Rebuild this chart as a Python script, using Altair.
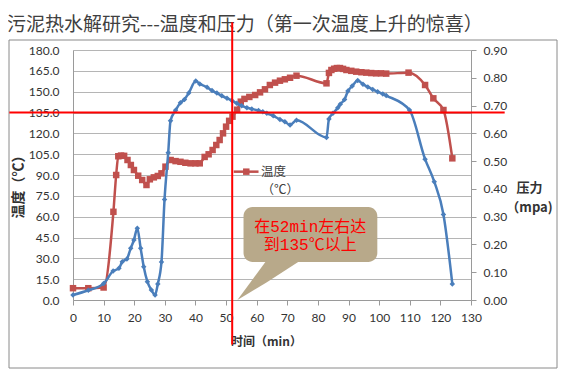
import altair as alt
import pandas as pd

# ---------------- data ----------------
title_text = "污泥热水解研究---温度和压力（第一次温度上升的惊喜）"

temp_t = [0, 5, 10, 13.2, 14.1, 14.8, 15.7, 16.7, 17.8, 18.9, 19.9, 21.3, 22.6, 24,
          25.1, 26.4, 27.7, 28.9, 30.2, 31.9, 33.5, 35.1, 36.7, 38.4, 40, 41.4, 43,
          44.3, 45.6, 46.8, 47.9, 49, 50, 51, 52.1, 53.6, 54.8, 56, 57.6, 59.5, 61.1,
          62.7, 64.3, 66, 67.6, 69.2, 70.9, 73, 82.8, 83.6, 84.4, 85.3, 86.2, 87.2,
          88.2, 89.3, 90.9, 92.5, 94.2, 95.8, 97.4, 99, 100.6, 102.3, 109.6, 115,
          117.7, 121, 123.9]
temp_v = [8.5, 8.5, 9, 63.5, 90, 103.5, 104, 103.8, 100.8, 97.2, 93.6, 89.5, 86.4, 82.8,
          86.9, 88.3, 89.3, 91.2, 96, 100.8, 100, 99.5, 98.8, 98.4, 98.4, 98.4, 103,
          104.9, 108, 111.6, 115.2, 120, 124.8, 129, 132, 137, 142.8, 144.8, 146.2, 147.6,
          149.5, 151.7, 154.8, 156.5, 157.9, 158.9, 160, 161.5, 156, 163.5, 165.6, 166.5,
          167, 167, 166.4, 165.6, 165, 164.4, 164, 163.7, 163.4, 163.2, 163.2, 163, 163.7,
          154.8, 145.2, 136.8, 102]

pres_t = [0, 5, 10, 13.1, 15, 16.1, 17.6, 18.85, 19.9, 21, 22.1, 23.1, 24.3, 25.6, 26.8,
          27.7, 28.9, 29.9, 31.1, 31.85, 33.5, 35.1, 36.4, 37.8, 40.1, 41.4, 43.8, 45.4,
          47, 48.6, 50.3, 51.9, 53.5, 55.1, 56.8, 58.4, 60.6, 62, 63.3, 65.4, 67.6, 69.2,
          70.9, 73, 82.8, 83.6, 84.9, 86.5, 87.3, 88.7, 89.8, 91.2, 93, 94.7, 96.3, 97.9,
          99.5, 101.2, 102.3, 109.9, 115, 118, 121, 123.9]
pres_v = [0.018, 0.035, 0.059, 0.104, 0.114, 0.138, 0.148, 0.186, 0.216, 0.258, 0.186,
          0.12, 0.066, 0.036, 0.018, 0.058, 0.137, 0.362, 0.53, 0.645, 0.683, 0.71, 0.722,
          0.745, 0.788, 0.778, 0.766, 0.754, 0.745, 0.735, 0.726, 0.718, 0.708, 0.699,
          0.692, 0.688, 0.682, 0.678, 0.672, 0.663, 0.65, 0.642, 0.63, 0.647, 0.585, 0.652,
          0.672, 0.692, 0.705, 0.722, 0.752, 0.77, 0.79, 0.777, 0.767, 0.758, 0.75, 0.742,
          0.736, 0.684, 0.507, 0.426, 0.308, 0.058]

x_ticks = list(range(0, 131, 10))
left_ticks = [i * 15 for i in range(13)]
right_ticks = [round(i * 0.1, 1) for i in range(10)]

legend_label = ["温度", "（℃）"]
callout_lines = ["在52min左右达", "到135℃以上"]
mark_time = 52
mark_temp = 135

# ---------------- styling ----------------
RED = "#C0504D"
BLUE = "#4A7EBB"
GRID = "#b5b5b5"
AXIS = "#9a9a9a"
TXT = "#333333"
LAT = "Lato"
CJK = "Noto Sans CJK SC"
TAN = "#B8A98A"

XS = alt.Scale(domain=[0, 130], nice=False, zero=False)
YL = alt.Scale(domain=[0, 180], nice=False, zero=False)
YR = alt.Scale(domain=[0, 0.9], nice=False, zero=False)

temp_df = pd.DataFrame({"t": temp_t, "v": temp_v})
pres_df = pd.DataFrame({"t": pres_t, "v": pres_v})

# outer chart frame (decoration)
frame = alt.Chart(pd.DataFrame({"a": [0]})).mark_rect(
    fillOpacity=0, stroke="#8a8a8a", strokeWidth=1, clip=False
).encode(x=alt.value(-64), x2=alt.value(484), y=alt.value(-10), y2=alt.value(318))

title = alt.Chart(pd.DataFrame({"s": [title_text]})).mark_text(
    align="left", baseline="middle", font=CJK, fontSize=19, color="#404040", clip=False
).encode(x=alt.value(-66), y=alt.value(-25), text="s:N")

temp_line = alt.Chart(temp_df).mark_line(
    color=RED, strokeWidth=2.5, interpolate="monotone",
    point=alt.OverlayMarkDef(shape="square", size=42, filled=True, color=RED, opacity=1),
).encode(
    x=alt.X("t:Q", scale=XS, axis=alt.Axis(
        values=x_ticks, title="时间（min）", grid=False, domainColor=AXIS, tickColor=AXIS,
        tickSize=5, labelFont=LAT, labelFontSize=12, labelColor=TXT, labelPadding=7,
        labelOverlap=False, labelFlush=False,
        titleFont=CJK, titleFontSize=12, titleFontWeight="bold", titleColor=TXT,
        titleX=193, titleY=41, titleBaseline="middle", titleAlign="center")),
    y=alt.Y("v:Q", scale=YL, axis=alt.Axis(
        values=left_ticks, format=".1f", title="温度（℃）", grid=True, gridColor=GRID,
        domainColor=AXIS, tickSize=0, labelFont=LAT, labelFontSize=12, labelColor=TXT,
        labelPadding=14, labelOverlap=False, titleFont=CJK, titleFontSize=14,
        titleFontWeight="bold", titleColor=TXT, titleAngle=270, titleX=-55, titleY=133,
        titleAlign="center", titleBaseline="middle")),
)

pres_line = alt.Chart(pres_df).mark_line(
    color=BLUE, strokeWidth=2.5, interpolate="monotone",
    point=alt.OverlayMarkDef(shape="diamond", size=30, filled=True, color=BLUE, opacity=1),
).encode(
    x=alt.X("t:Q", scale=XS, axis=None),
    y=alt.Y("v:Q", scale=YR, axis=alt.Axis(
        orient="right", values=right_ticks, format=".2f", title=["压力", "（mpa)"],
        grid=False, domainColor=AXIS, tickColor=AXIS, tickSize=5, labelFont=LAT,
        labelFontSize=12, labelColor=TXT, labelPadding=7, labelOverlap=False,
        titleFont=CJK, titleFontSize=13,
        titleFontWeight="bold", titleColor=TXT, titleAngle=0, titleX=58, titleY=137,
        titleAlign="center", titleBaseline="middle", titleLineHeight=20)),
)

# legend (only the temperature entry is visible; the other is covered by the callout)
leg_line = alt.Chart(pd.DataFrame({"a": [52.5], "b": [60.6], "y": [92.4]})).mark_rule(
    color=RED, strokeWidth=2.5, clip=False
).encode(x=alt.X("a:Q", scale=XS, axis=None), x2="b:Q", y=alt.Y("y:Q", scale=YL, axis=None))
leg_pt = alt.Chart(pd.DataFrame({"a": [56.6], "y": [92.4]})).mark_point(
    shape="square", size=42, filled=True, color=RED, opacity=1, clip=False
).encode(x=alt.X("a:Q", scale=XS, axis=None), y=alt.Y("y:Q", scale=YL, axis=None))
leg_txt = alt.Chart(pd.DataFrame({"a": [61.4, 61.6], "y": [92.4, 79.2], "s": legend_label})).mark_text(
    align="left", baseline="middle", font=CJK, fontSize=12.5, color="#404040", clip=False
).encode(x=alt.X("a:Q", scale=XS, axis=None), y=alt.Y("y:Q", scale=YL, axis=None), text="s:N")

# callout
box = alt.Chart(pd.DataFrame({"a": [55.7], "b": [99.4], "y": [67], "y2": [27.4]})).mark_rect(
    color=TAN, cornerRadius=9, clip=False
).encode(x=alt.X("a:Q", scale=XS, axis=None), x2="b:Q",
         y=alt.Y("y:Q", scale=YL, axis=None), y2="y2:Q")
tail = alt.Chart(pd.DataFrame({"a": [53.7, 63.2, 74.3], "lo": [0, 12.6, 28.5], "hi": [0, 28.5, 28.5]})).mark_area(
    color=TAN, opacity=1, clip=False
).encode(x=alt.X("a:Q", scale=XS, axis=None),
         y=alt.Y("lo:Q", scale=YL, axis=None), y2="hi:Q")
call_txt = alt.Chart(pd.DataFrame({"a": [77.5, 77.5], "y": [52.6, 39.6], "s": callout_lines})).mark_text(
    align="center", baseline="middle", font="Liberation Mono, Noto Sans CJK SC", fontSize=16,
    color="#FF0000", clip=False
).encode(x=alt.X("a:Q", scale=XS, axis=None), y=alt.Y("y:Q", scale=YL, axis=None), text="s:N")

# red cross-hair
vrule = alt.Chart(pd.DataFrame({"a": [mark_time], "y": [200], "y2": [-32]})).mark_rule(
    color="#FF0000", strokeWidth=2, clip=False
).encode(x=alt.X("a:Q", scale=XS, axis=None), y=alt.Y("y:Q", scale=YL, axis=None), y2="y2:Q")
hrule = alt.Chart(pd.DataFrame({"a": [-20.8], "b": [141], "y": [mark_temp]})).mark_rule(
    color="#FF0000", strokeWidth=2, clip=False
).encode(x=alt.X("a:Q", scale=XS, axis=None), x2="b:Q", y=alt.Y("y:Q", scale=YL, axis=None))

chart = alt.layer(
    frame, title, temp_line, pres_line, leg_line, leg_pt, leg_txt, box, tail, call_txt, vrule, hrule
).resolve_scale(
    x="independent", y="independent"
).properties(
    width=398, height=250,
    autosize=alt.AutoSizeParams(type="none"),
    padding={"left": 65, "top": 42, "right": 100, "bottom": 72},
).configure_view(stroke=None).configure(background="white")

chart.save("out.html", embed_options={"renderer": "svg", "actions": False})
